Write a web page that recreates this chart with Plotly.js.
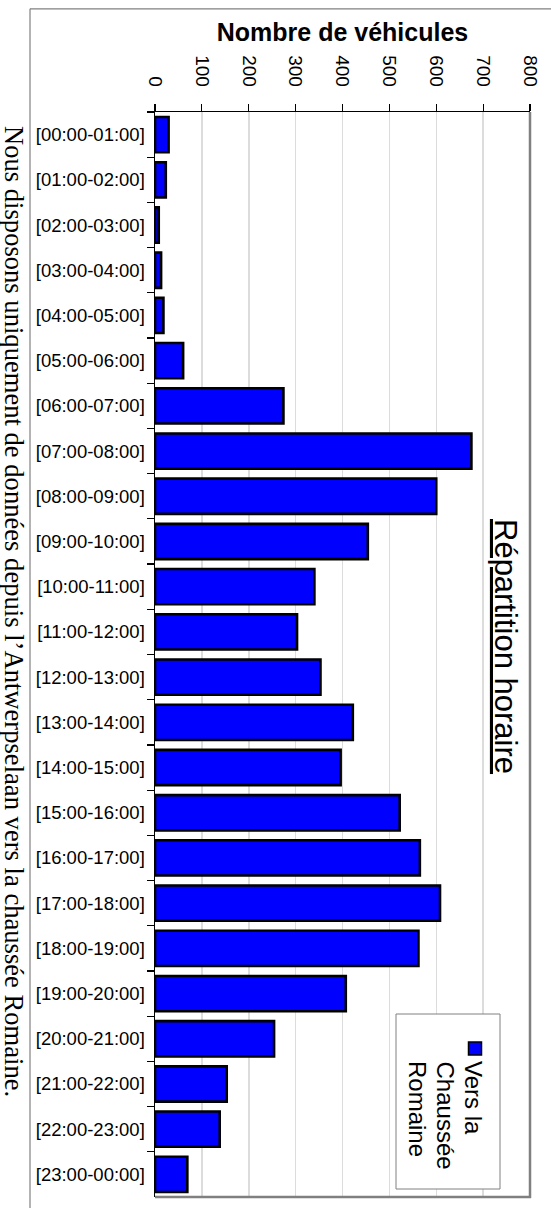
<!DOCTYPE html>
<html>
<head>
<meta charset="utf-8">
<script src="https://cdn.plot.ly/plotly-3.0.1.min.js"></script>
<style>
  html, body { margin: 0; padding: 0; background: #ffffff; }
  #chart { width: 551px; height: 1208px; }
</style>
</head>
<body>
<div id="chart"></div>
<script>
// ---- Data ----
var categories = [
  '[00:00-01:00]', '[01:00-02:00]', '[02:00-03:00]', '[03:00-04:00]',
  '[04:00-05:00]', '[05:00-06:00]', '[06:00-07:00]', '[07:00-08:00]',
  '[08:00-09:00]', '[09:00-10:00]', '[10:00-11:00]', '[11:00-12:00]',
  '[12:00-13:00]', '[13:00-14:00]', '[14:00-15:00]', '[15:00-16:00]',
  '[16:00-17:00]', '[17:00-18:00]', '[18:00-19:00]', '[19:00-20:00]',
  '[20:00-21:00]', '[21:00-22:00]', '[22:00-23:00]', '[23:00-00:00]'
];
var vehicules = [29, 23, 8, 13, 18, 60, 274, 675, 600, 454, 340, 303,
                 353, 422, 396, 522, 565, 608, 562, 407, 254, 153, 138, 69];
var xTickValues = [0, 100, 200, 300, 400, 500, 600, 700, 800];
var seriesName = 'Vers la Chaussée Romaine';
var legendLines = ['Vers la', 'Chaussée', 'Romaine'];
var chartTitle = 'Répartition horaire';
var xAxisTitle = 'Nombre de véhicules';
var footnote = 'Nous disposons uniquement de données depuis l’Antwerpselaan vers la chaussée Romaine.';

// ---- Layout geometry (pixels) ----
var W = 551, H = 1208;
var M = {l: 155, r: 21, t: 112, b: 11};
var plotW = W - M.l - M.r, plotH = H - M.t - M.b;
function px(x) { return (x - M.l) / plotW; }
function py(y) { return (H - M.b - y) / plotH; }

var sans = 'Liberation Sans, Arial, sans-serif';
var serif = 'Liberation Serif, Times New Roman, serif';

var trace = {
  type: 'bar',
  orientation: 'h',
  y: categories,
  x: vehicules,
  name: seriesName,
  marker: { color: '#0000ff', line: { color: '#000000', width: 2.6 } },
  hoverinfo: 'x+y'
};

var layout = {
  width: W, height: H,
  margin: {l: M.l, r: M.r, t: M.t, b: M.b, pad: 0},
  paper_bgcolor: '#ffffff',
  plot_bgcolor: '#ffffff',
  showlegend: false,
  bargap: 0.22,
  font: {family: sans, color: '#000000'},
  xaxis: {
    side: 'top',
    range: [0, 800],
    tickvals: xTickValues,
    ticktext: xTickValues.map(String),
    tickangle: 90,
    tickfont: {family: sans, size: 19, color: '#000000'},
    ticks: 'outside', ticklen: 7, tickwidth: 1.2, tickcolor: '#000000',
    ticklabelstandoff: 10,
    showline: true, linecolor: '#000000', linewidth: 1.5,
    showgrid: true, gridcolor: '#dcdcdc', gridwidth: 1.5,
    zeroline: false,
    fixedrange: true,
    title: {text: '<b>' + xAxisTitle + '</b>', font: {family: sans, size: 25, color: '#000000'}, standoff: 6}
  },
  yaxis: {
    type: 'category',
    categoryorder: 'array',
    categoryarray: categories,
    autorange: 'reversed',
    tickson: 'boundaries',
    ticks: 'outside', ticklen: 7, tickwidth: 1.2, tickcolor: '#000000',
    tickfont: {family: sans, size: 18.5, color: '#000000'},
    ticklabelstandoff: 5,
    showline: true, linecolor: '#000000', linewidth: 1.5,
    showgrid: false,
    zeroline: false,
    fixedrange: true
  },
  shapes: [
    // outer chart frame: left and top edges
    {type: 'line', xref: 'paper', yref: 'paper',
     x0: px(30), x1: px(30), y0: py(1210), y1: py(8.8),
     line: {color: '#808080', width: 1.2}, layer: 'above'},
    {type: 'line', xref: 'paper', yref: 'paper',
     x0: px(30), x1: px(553), y0: py(8.8), y1: py(8.8),
     line: {color: '#808080', width: 1.2}, layer: 'above'},
    // plot area right & bottom border
    {type: 'line', xref: 'paper', yref: 'paper',
     x0: 1, x1: 1, y0: py(1198), y1: 1,
     line: {color: '#808080', width: 2.5}, layer: 'above'},
    {type: 'line', xref: 'paper', yref: 'paper',
     x0: 0, x1: px(531), y0: py(1197), y1: py(1197),
     line: {color: '#808080', width: 2.5}, layer: 'above'},
    // legend box
    {type: 'rect', xref: 'paper', yref: 'paper',
     x0: px(396), x1: px(500), y0: py(1189), y1: py(1014),
     line: {color: '#808080', width: 1}, fillcolor: '#ffffff', layer: 'above'},
    // legend key
    {type: 'rect', xref: 'paper', yref: 'paper',
     x0: px(468.5), x1: px(481.5), y0: py(1055), y1: py(1042),
     line: {color: '#000000', width: 1.5}, fillcolor: '#0000ff', layer: 'above'}
  ],
  annotations: [
    {text: '<u>' + chartTitle + '</u>', textangle: 90, showarrow: false,
     xref: 'paper', yref: 'paper', x: px(506), y: py(646),
     xanchor: 'center', yanchor: 'middle',
     font: {family: sans, size: 31, color: '#000000'}},
    {text: footnote, textangle: 90, showarrow: false,
     xref: 'paper', yref: 'paper', x: px(14.5), y: py(611.5),
     xanchor: 'center', yanchor: 'middle',
     font: {family: serif, size: 26.6, color: '#000000'}}
  ]
};

var legendX = [474, 445.5, 418];
legendLines.forEach(function (line, i) {
  layout.annotations.push({
    text: line, textangle: 90, showarrow: false,
    xref: 'paper', yref: 'paper', x: px(legendX[i]), y: py(1059),
    xanchor: 'center', yanchor: 'top',
    font: {family: sans, size: 24, color: '#000000'}
  });
});

Plotly.newPlot('chart', [trace], layout, {displayModeBar: false, staticPlot: true});
</script>
</body>
</html>
